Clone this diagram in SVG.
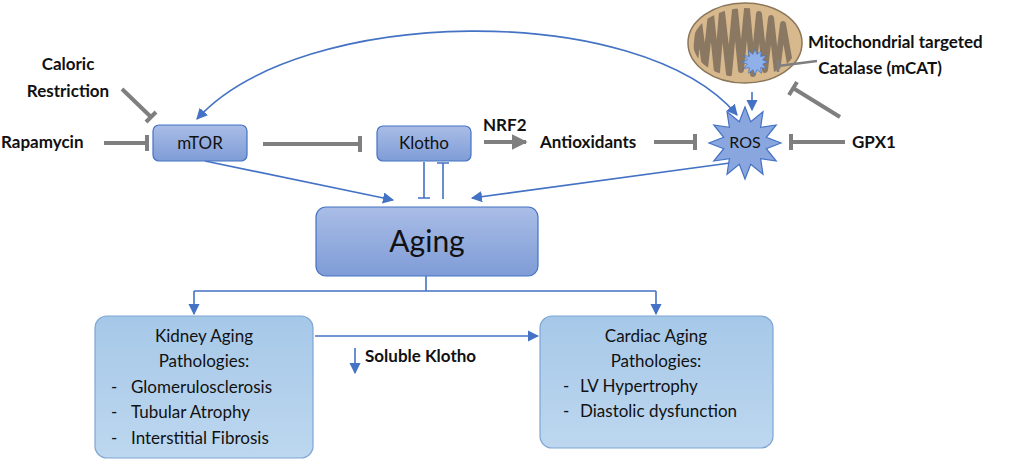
<svg xmlns="http://www.w3.org/2000/svg" width="1020" height="469" viewBox="0 0 1020 469">
<style>
.t{font-family:Lato,"Liberation Sans",sans-serif;fill:#111}
.b{font-weight:bold}
.inh{stroke:#7f7f7f;stroke-width:4;fill:none}
.bl{stroke:#4472c4;stroke-width:1.6;fill:none}
.node{fill:url(#g1);stroke:#4472c4;stroke-width:1.2}
.lb{fill:url(#g2);stroke:#7ea6d4;stroke-width:1.2}
</style>
<defs>
<linearGradient id="g1" x1="0" y1="0" x2="0" y2="1"><stop offset="0" stop-color="#a9bde6"/><stop offset="1" stop-color="#7f9cd7"/></linearGradient>
<linearGradient id="g2" x1="0" y1="0" x2="0" y2="1"><stop offset="0" stop-color="#a6c8e8"/><stop offset="1" stop-color="#bdd7ef"/></linearGradient>
<marker id="ab" viewBox="0 0 10 10" refX="9" refY="5" markerWidth="7" markerHeight="7" orient="auto-start-reverse"><path d="M0,0L10,5L0,10z" fill="#4472c4"/></marker>
<marker id="ag" viewBox="0 0 10 10" refX="9" refY="5" markerWidth="4" markerHeight="4" orient="auto"><path d="M0,0L10,5L0,10z" fill="#7f7f7f"/></marker>
<clipPath id="mc"><ellipse cx="745" cy="43" rx="52" ry="35"/></clipPath>
<polygon id="star" points="781,143 766.3,148.7 776.2,161 760.6,158.6 763,174.2 750.7,164.3 745,179 739.3,164.3 727,174.2 729.4,158.6 713.8,161 723.7,148.7 709,143 723.7,137.3 713.8,125 729.4,127.4 727,111.8 739.3,121.7 745,107 750.7,121.7 763,111.8 760.6,127.4 776.2,125 766.3,137.3"/>
</defs>
<rect width="1020" height="469" fill="#fff"/>
<g id="mito">
<ellipse cx="745" cy="43" rx="57" ry="40" fill="#d8b98e" stroke="#8a7658" stroke-width="1.5"/>
<polyline clip-path="url(#mc)" points="695,62 699,22 705,68 711,14 717,72 722,12 729,74 735,10 741,70 747,9 753,74 759,14 765,70 771,18 777,72 783,24 790,64" fill="none" stroke="#8b7862" stroke-width="6" stroke-linejoin="round"/>
<use href="#star" transform="translate(755,62) scale(0.36) translate(-745,-143)" fill="#8fb0e8" stroke="#4472c4" stroke-width="2"/>
</g>
<g id="connectors">
<path class="bl" d="M197,119 C300,5 640,0 737,115" marker-start="url(#ab)" marker-end="url(#ab)"/>
<line class="bl" x1="752" y1="92" x2="752" y2="110" marker-end="url(#ab)"/>
<line class="bl" x1="205" y1="161" x2="393" y2="200" marker-end="url(#ab)"/>
<line class="bl" x1="730" y1="163" x2="472" y2="198" marker-end="url(#ab)"/>
<path class="bl" d="M424,162V198M418,198H430M443,199V163M437,163H449"/>
<path class="bl" d="M426,276V291M194,291H656"/>
<line class="bl" x1="194" y1="291" x2="194" y2="314" marker-end="url(#ab)"/>
<line class="bl" x1="656" y1="291" x2="656" y2="314" marker-end="url(#ab)"/>
<line class="bl" x1="315" y1="336" x2="538" y2="336" marker-end="url(#ab)"/>
<line class="bl" x1="355" y1="348" x2="355" y2="373" marker-end="url(#ab)"/>
<path class="inh" d="M104,143H147M147,135V151"/>
<path class="inh" d="M122,89L151,117M146,122L156,112"/>
<path class="inh" d="M263,144H360M360,136V152"/>
<line class="inh" x1="484" y1="142" x2="526" y2="142" marker-end="url(#ag)"/>
<path class="inh" d="M654,142H695M695,134V150"/>
<path class="inh" d="M845,142H791M791,134V150"/>
<path class="inh" d="M840,117L793,88M789,95L797,82"/>
<path d="M817,61L778,66M778,60V72" stroke="#7f7f7f" stroke-width="2.5" fill="none"/>
</g>
<g id="mTOR"><rect class="node" x="153" y="125" width="94" height="36" rx="6"/><text class="t" x="200" y="149" font-size="17" text-anchor="middle">mTOR</text></g>
<g id="Klotho"><rect class="node" x="377" y="126" width="94" height="35" rx="6"/><text class="t" x="424" y="149" font-size="17" text-anchor="middle">Klotho</text></g>
<g id="ROS"><use href="#star" fill="#8aa6de" stroke="#4472c4" stroke-width="1.2"/><text class="t" x="745" y="148" font-size="16" text-anchor="middle">ROS</text></g>
<g id="Aging"><rect class="node" x="316" y="207" width="222" height="69" rx="10"/><text class="t" x="427" y="252" font-size="30" text-anchor="middle">Aging</text></g>
<g id="Kidney"><rect class="lb" x="95" y="316" width="218" height="142" rx="12"/>
<text class="t" font-size="17" text-anchor="middle"><tspan x="204" y="342">Kidney Aging</tspan><tspan x="204" y="367">Pathologies:</tspan></text>
<text class="t" font-size="17"><tspan x="111" y="393">-</tspan><tspan x="131" y="393">Glomerulosclerosis</tspan><tspan x="111" y="418">-</tspan><tspan x="131" y="418">Tubular Atrophy</tspan><tspan x="111" y="444">-</tspan><tspan x="131" y="444">Interstitial Fibrosis</tspan></text></g>
<g id="Cardiac"><rect class="lb" x="540" y="316" width="233" height="132" rx="12"/>
<text class="t" font-size="17" text-anchor="middle"><tspan x="656" y="342">Cardiac Aging</tspan><tspan x="656" y="367">Pathologies:</tspan></text>
<text class="t" font-size="17"><tspan x="563" y="392">-</tspan><tspan x="580" y="392">LV Hypertrophy</tspan><tspan x="563" y="417">-</tspan><tspan x="580" y="417">Diastolic dysfunction</tspan></text></g>
<g id="labels" font-size="17">
<text x="68" y="70" text-anchor="middle" class="t b">Caloric</text>
<text x="68" y="97" text-anchor="middle" class="t b">Restriction</text>
<text x="1" y="148" class="t b">Rapamycin</text>
<text x="483" y="131" class="t b">NRF2</text>
<text x="540" y="148" class="t b">Antioxidants</text>
<text x="852" y="148" class="t b">GPX1</text>
<text x="808" y="48" class="t b">Mitochondrial targeted</text>
<text x="880" y="74" text-anchor="middle" class="t b">Catalase (mCAT)</text>
<text x="365" y="362" class="t b">Soluble Klotho</text>
</g>
</svg>
